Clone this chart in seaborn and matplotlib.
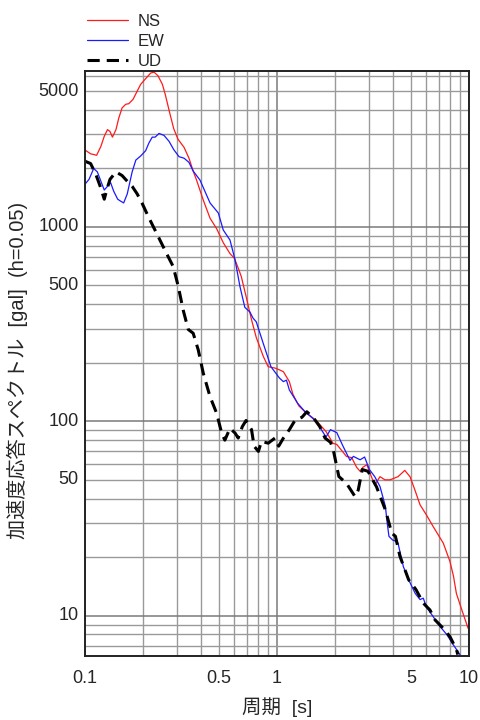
import numpy as np
import matplotlib
matplotlib.use("Agg")
import matplotlib.pyplot as plt
import matplotlib.ticker as mticker
import seaborn as sns

# Acceleration response spectra (h = 0.05), period [s] vs Sa [gal]
ns_period = [0.1, 0.107, 0.115, 0.121, 0.126, 0.131, 0.135, 0.139, 0.145, 0.15,
             0.156, 0.163, 0.169, 0.178, 0.187, 0.195, 0.207, 0.22, 0.229, 0.24,
             0.253, 0.262, 0.277, 0.29, 0.305, 0.328, 0.348, 0.366, 0.381, 0.413,
             0.448, 0.485, 0.525, 0.569, 0.6, 0.63, 0.652, 0.69, 0.737, 0.78,
             0.85, 0.9, 0.976, 1.03, 1.08, 1.16, 1.21, 1.3, 1.4, 1.6,
             1.8, 1.96, 2.05, 2.3, 2.45, 2.6, 2.71, 2.8, 2.94, 3.1,
             3.23, 3.44, 3.65, 3.88, 4.27, 4.63, 4.93, 5.2, 5.56, 6.0,
             6.5, 7.35, 7.96, 8.3, 8.6, 9.3, 9.9]
ns_sa = [2490, 2380, 2340, 2600, 2930, 3170, 3100, 2900, 3170, 3640,
         4100, 4280, 4310, 4540, 5000, 5420, 5800, 6200, 6260, 6000,
         5420, 4800, 3820, 3200, 2830, 2570, 2260, 1940, 1745, 1377,
         1110, 980, 830, 730, 690, 610, 555, 440, 333, 270,
         215, 191, 188, 184, 180, 160, 138, 120, 112, 101,
         88.6, 77, 76, 66, 65, 58, 55.3, 58, 59.8, 52,
         47, 51.9, 50, 50, 51.9, 55.9, 51.9, 45, 37.2, 33,
         28.8, 23.6, 19, 16, 13, 10.3, 8.6]

ew_period = [0.1, 0.105, 0.111, 0.116, 0.121, 0.126, 0.131, 0.136, 0.141, 0.148,
             0.153, 0.159, 0.166, 0.176, 0.184, 0.195, 0.207, 0.215, 0.224, 0.232,
             0.243, 0.258, 0.274, 0.29, 0.309, 0.328, 0.348, 0.366, 0.397, 0.448,
             0.495, 0.525, 0.569, 0.605, 0.641, 0.68, 0.723, 0.75, 0.78, 0.85,
             0.93, 1.03, 1.08, 1.12, 1.16, 1.28, 1.4, 1.6, 1.8, 1.9,
             2.05, 2.2, 2.4, 2.5, 2.71, 2.86, 3.03, 3.23, 3.44, 3.67,
             3.75, 3.83, 4.0, 4.14, 4.27, 4.55, 4.85, 5.25, 5.56, 5.78,
             6.0, 6.5, 7.06, 7.66, 8.27, 8.98]
ew_sa = [1660, 1760, 2000, 1920, 1720, 1550, 1620, 1690, 1530, 1390,
         1360, 1330, 1480, 1920, 2210, 2320, 2470, 2700, 2900, 2900,
         3030, 2960, 2760, 2500, 2300, 2260, 2150, 1940, 1745, 1330,
         1180, 965, 857, 677, 495, 386, 365, 340, 325, 250,
         191, 167, 160, 163, 145, 124, 112, 100, 83, 90.6,
         87.4, 75, 63, 66, 63.4, 65.5, 56.5, 51.9, 46.2, 36.5,
         30, 25.6, 24.5, 24.2, 23.6, 17.9, 15.3, 13, 12.1, 12.3,
         11.1, 9.9, 8.8, 8.0, 7.1, 6.3]

ud_period = [0.1, 0.107, 0.114, 0.12, 0.126, 0.13, 0.135, 0.145, 0.156, 0.166,
             0.176, 0.187, 0.198, 0.207, 0.218, 0.241, 0.266, 0.288, 0.306, 0.325,
             0.345, 0.366, 0.389, 0.413, 0.448, 0.485, 0.515, 0.535, 0.569, 0.605,
             0.628, 0.66, 0.69, 0.737, 0.76, 0.8, 0.83, 0.9, 0.976, 1.02,
             1.08, 1.16, 1.24, 1.35, 1.43, 1.54, 1.67, 1.78, 1.9, 1.96,
             2.1, 2.3, 2.55, 2.65, 2.78, 2.98, 3.3, 3.67, 3.96, 4.14,
             4.37, 4.85, 5.3, 5.78, 6.26, 6.66, 7.35, 7.96, 8.6, 8.75]
ud_sa = [2180, 2120, 1860, 1620, 1390, 1560, 1760, 1920, 1840, 1720,
         1620, 1480, 1330, 1210, 1087, 890, 730, 626, 495, 372,
         297, 284, 233, 177, 134, 110, 87, 80, 92, 87,
         82, 94, 101, 90.6, 74.5, 70, 78.8, 77.2, 82, 74.5,
         82, 90.6, 101, 105, 112, 105, 94, 82, 78, 72,
         52, 48, 41, 44.3, 56.5, 55.3, 46, 35, 26.6, 25.6,
         20.2, 15.3, 13.6, 11.6, 10.7, 9.5, 8.6, 7.8, 6.7, 6.3]

x_ticks = [0.1, 0.5, 1, 5, 10]
x_labels = ["0.1", "0.5", "1", "5", "10"]
y_ticks = [10, 50, 100, 500, 1000, 5000]
y_labels = ["10", "50", "100", "500", "1000", "5000"]

sns.set_style("white")
plt.rcParams["font.family"] = ["Liberation Sans", "Noto Sans CJK JP", "DejaVu Sans"]

fig = plt.figure(figsize=(4.81, 7.2), dpi=100)
ax = fig.add_axes([0.1767, 0.0889, 0.7983, 0.8125])

sns.lineplot(x=ns_period, y=ns_sa, ax=ax, color="#ff1a1a", lw=0.9,
             sort=False, estimator=None, label="NS")
sns.lineplot(x=ew_period, y=ew_sa, ax=ax, color="#1a1aff", lw=0.9,
             sort=False, estimator=None, label="EW")
sns.lineplot(x=ud_period, y=ud_sa, ax=ax, color="black", lw=2.2,
             sort=False, estimator=None, label="UD")
ax.lines[-1].set_linestyle((0, (4, 2.3)))
for ln in ax.lines:
    ln.set_solid_joinstyle("round")
    ln.set_dash_joinstyle("round")

ax.set_xscale("log")
ax.set_yscale("log")
ax.set_xlim(0.1, 10)
ax.set_ylim(6.2, 6350)

# every decade and sub-decade carries a grid line
ax.xaxis.set_major_locator(mticker.LogLocator(base=10))
ax.xaxis.set_minor_locator(mticker.LogLocator(base=10, subs=np.arange(2, 10)))
ax.yaxis.set_major_locator(mticker.LogLocator(base=10))
ax.yaxis.set_minor_locator(mticker.LogLocator(base=10, subs=np.arange(2, 10)))
ax.grid(which="major", color="#7a7a7a", lw=1.1)
ax.grid(which="minor", color="#9a9a9a", lw=1.0)
ax.xaxis.set_major_formatter(mticker.NullFormatter())
ax.xaxis.set_minor_formatter(mticker.NullFormatter())
ax.yaxis.set_major_formatter(mticker.NullFormatter())
ax.yaxis.set_minor_formatter(mticker.NullFormatter())
ax.tick_params(which="both", length=0)

# labelled positions
for v, s in zip(x_ticks, x_labels):
    ax.annotate(s, xy=(v, 0), xycoords=("data", "axes fraction"),
                xytext=(0, -10), textcoords="offset points",
                ha="center", va="top", fontsize=13)
for v, s in zip(y_ticks, y_labels):
    ax.annotate(s, xy=(0, v), xycoords=("axes fraction", "data"),
                xytext=(-4.5, 0), textcoords="offset points",
                ha="right", va="center", fontsize=13)

for sp in ax.spines.values():
    sp.set_color("#222222")
    sp.set_linewidth(1.4)

fig.text(0.5758, 0.018, "周期  [s]", ha="center", va="center", fontsize=14)
fig.text(0.037, 0.486, "加速度応答スペクトル  [gal]  (h=0.05)", ha="center",
         va="center", rotation=90, fontsize=14.5)

ax.legend(loc="lower left", bbox_to_anchor=(0, 1.0), frameon=False,
          borderpad=0, borderaxespad=0.1, handlelength=2.5, handletextpad=0.55,
          labelspacing=0.32,
          prop={"family": ["Liberation Sans Narrow", "Liberation Sans"], "size": 12})

fig.savefig("out.png", dpi=100)
